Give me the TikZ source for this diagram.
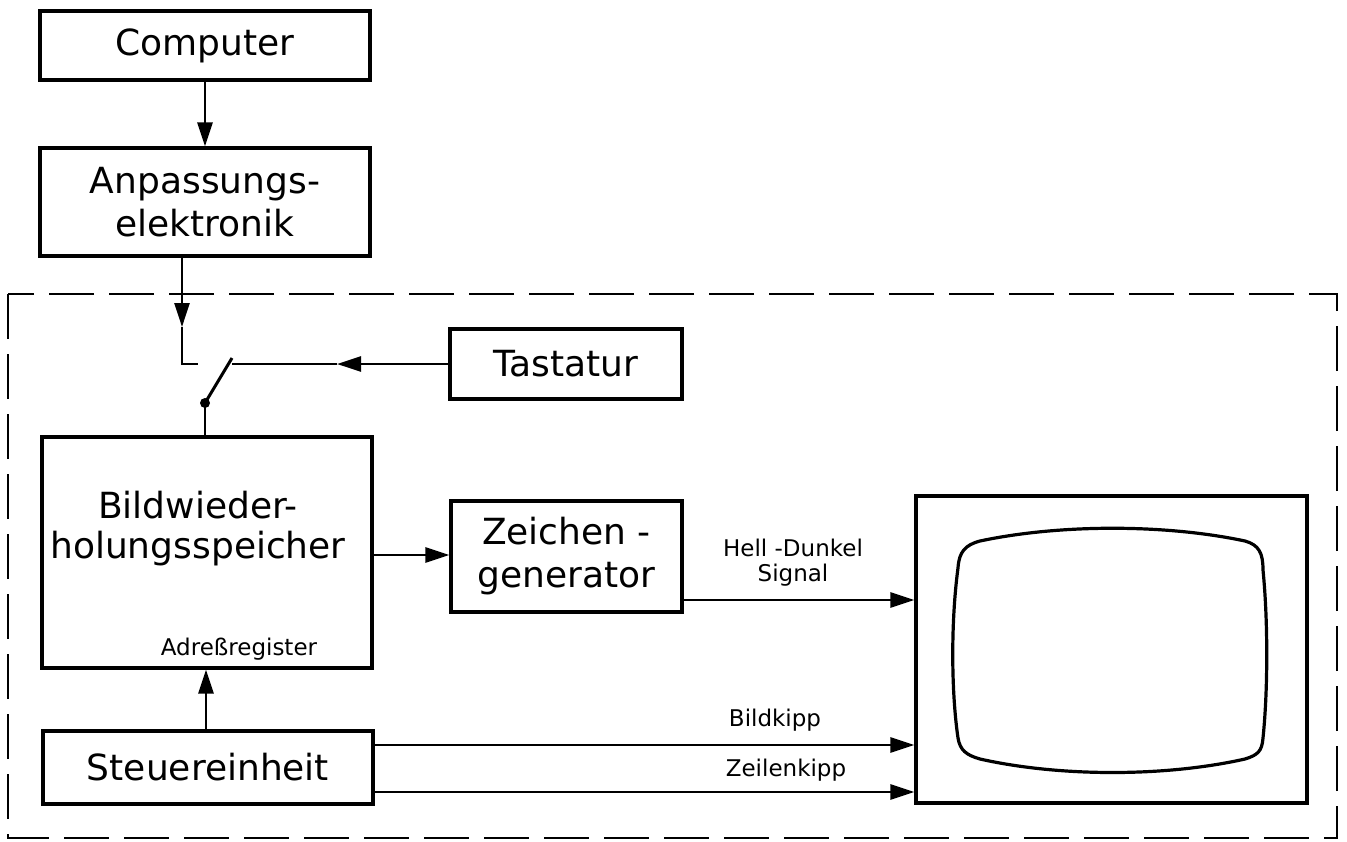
\documentclass[tikz,border=0pt]{standalone}
\usepackage{fontspec}
\setmainfont{DejaVu Sans}
\usetikzlibrary{arrows.meta}
\tikzset{
  box/.style={draw, line width=3.2pt, inner sep=0pt, align=center, font=\fontsize{36}{43}\selectfont},
  bigtext/.style={inner sep=0pt, align=center, font=\fontsize{36}{40}\selectfont},
  small/.style={inner sep=0pt, align=center, font=\fontsize{23}{25}\selectfont},
  wire/.style={line width=2.6pt},
  arr/.style={line width=2.6pt, -{Triangle[length=24pt,width=15pt]}},
  frame/.style={line width=2.8pt, dash pattern=on 45pt off 15pt},
}
\begin{document}
\begin{tikzpicture}[x=1pt,y=-1pt]
\useasboundingbox (0,0) rectangle (1347,841);

% dashed enclosure
\draw[frame] (8,294) rectangle (1337,838);

% boxes
\node[box, minimum width=330pt, minimum height=69pt] (comp) at (205,45.5) {Computer};
\node[box, minimum width=330pt, minimum height=108pt] (anp) at (205,202) {Anpassungs-\\elektronik};
\node[box, minimum width=232pt, minimum height=70pt] (tast) at (566,364) {Tastatur};
\node[box, minimum width=330pt, minimum height=231pt] (bild) at (207,552.5) {};
\node[bigtext] (bildtext) at (198,529) {Bildwieder-\\holungsspeicher};
\node[small] (adr) at (239,649) {Adreßregister};
\node[box, minimum width=231pt, minimum height=111pt] (zei) at (566.5,556.5) {Zeichen -\\generator};
\node[box, minimum width=330pt, minimum height=73pt] (steu) at (208,767.5) {Steuereinheit};
\node[draw, line width=3.2pt, inner sep=0pt, minimum width=391pt, minimum height=307pt] (mon) at (1111.5,649.5) {};

% screen
\draw[line width=3.2pt]
  (980,541) .. controls (1060,524) and (1165,524) .. (1245,541)
  .. controls (1259,545) and (1263,553) .. (1263,570)
  .. controls (1268,620) and (1268,690) .. (1263,738)
  .. controls (1262,751) and (1258,755) .. (1245,759)
  .. controls (1165,777) and (1060,777) .. (980,759)
  .. controls (966,755) and (960,750) .. (958,738)
  .. controls (951,690) and (951,620) .. (958,568)
  .. controls (959,552) and (965,545) .. (980,541) -- cycle;

% coordinates
\coordinate (sw1) at (182,327);
\coordinate (sw2) at (182,364);
\coordinate (sw3) at (198,364);
\coordinate (piv) at (205,403);
\coordinate (blade) at (232,358);
\coordinate (ta1) at (337,364);
\coordinate (ta2) at (232,364);
\coordinate (ybz) at (0,555);
\coordinate (yhd) at (0,600);
\coordinate (xst) at (206,0);
\coordinate (ybk) at (0,745);
\coordinate (yzk) at (0,792);

% connectors
\draw[arr] (comp.south) -- (anp.north);
\draw[arr] (anp.south -| sw1) -- (sw1);
\draw[wire] (sw1) -- (sw2) -- (sw3);
\draw[arr] (tast.west) -- (ta1);
\draw[wire] (ta1) -- (ta2);
\draw[line width=3pt] (piv) -- (blade);
\fill (piv) circle (5pt);
\draw[wire] (piv) -- (bild.north -| piv);
\draw[arr] (bild.east |- ybz) -- (zei.west |- ybz);
\draw[arr] (zei.east |- yhd) -- (mon.west |- yhd);
\draw[arr] (steu.north -| xst) -- (bild.south -| xst);
\draw[arr] (steu.east |- ybk) -- (mon.west |- ybk);
\draw[arr] (steu.east |- yzk) -- (mon.west |- yzk);

% labels
\node[small] (hd) at (793,563) {Hell -Dunkel\\Signal};
\node[small] (bk) at (775,720) {Bildkipp};
\node[small] (zk) at (786,770) {Zeilenkipp};
\end{tikzpicture}
\end{document}
